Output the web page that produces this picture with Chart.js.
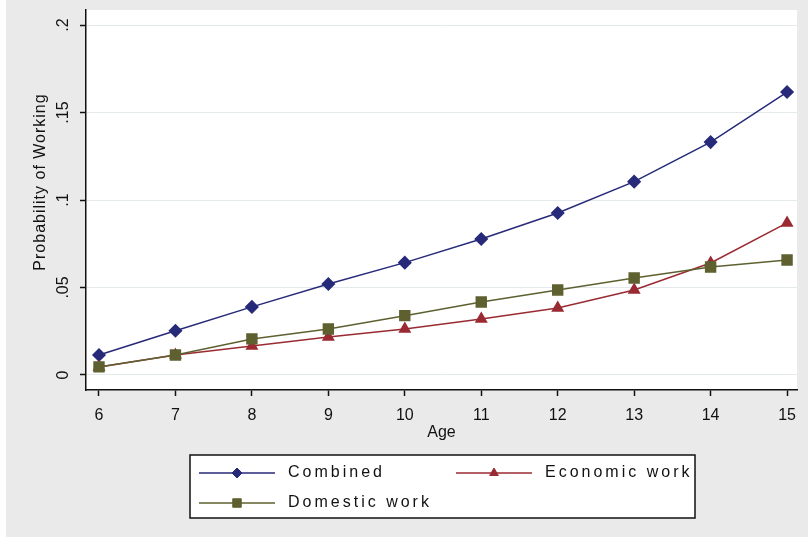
<!DOCTYPE html>
<html>
<head>
<meta charset="utf-8">
<script src="https://cdn.jsdelivr.net/npm/chart.js@4/dist/chart.umd.min.js"></script>
<style>
  html, body { margin: 0; padding: 0; background: #ffffff; }
  #wrap { width: 808px; height: 544px; }
</style>
</head>
<body>
<div id="wrap"><canvas id="c" width="808" height="544"></canvas></div>
<script>
// ---- data ----
const ages = [6, 7, 8, 9, 10, 11, 12, 13, 14, 15];
const combined = [0.0114, 0.0253, 0.0389, 0.0520, 0.0642, 0.0777, 0.0926, 0.1105, 0.1331, 0.1617];
const economic = [0.0046, 0.0114, 0.0166, 0.0217, 0.0263, 0.0320, 0.0383, 0.0486, 0.0640, 0.0869];
const domestic = [0.0046, 0.0114, 0.0206, 0.0263, 0.0339, 0.0417, 0.0486, 0.0554, 0.0617, 0.0657];
const seriesLabels = ['Combined', 'Economic work', 'Domestic work'];
const yTicks = [0, 0.05, 0.1, 0.15, 0.2];
const yTickLabels = ['0', '.05', '.1', '.15', '.2'];
const xTitle = 'Age';
const yTitle = 'Probability of Working';

const COL_NAVY = '#272a79';
const COL_RED = '#9a2a32';
const COL_OLIVE = '#5e6030';
const FONT = '"Liberation Sans", Arial, Helvetica, sans-serif';

function pts(vals) { return ages.map((a, i) => ({ x: a, y: vals[i] })); }

const bgPlugin = {
  id: 'bg',
  beforeDraw(chart) {
    const { ctx, chartArea: a } = chart;
    ctx.save();
    ctx.fillStyle = '#ffffff';
    ctx.fillRect(0, 0, chart.width, chart.height);
    ctx.fillStyle = '#eaeaea';
    ctx.fillRect(6, 0, chart.width - 6, 537);
    ctx.fillStyle = '#ffffff';
    ctx.fillRect(a.left, a.top, a.right - a.left, a.bottom - a.top);
    ctx.restore();
  }
};

const extrasPlugin = {
  id: 'extras',
  afterDraw(chart) {
    const ctx = chart.ctx;
    const ys = chart.scales.y;
    ctx.save();
    // y tick labels (rotated)
    ctx.fillStyle = '#111';
    ctx.font = '16px ' + FONT;
    ctx.textAlign = 'center';
    ctx.textBaseline = 'middle';
    yTicks.forEach((v, i) => {
      const py = ys.getPixelForValue(v);
      ctx.save();
      ctx.translate(64, py);
      ctx.rotate(-Math.PI / 2);
      ctx.fillText(yTickLabels[i], 0, 0);
      ctx.restore();
    });
    // y title
    ctx.save();
    ctx.font = '16px ' + FONT;
    ctx.letterSpacing = '1px';
    ctx.translate(41, 182);
    ctx.rotate(-Math.PI / 2);
    ctx.fillText(yTitle, 0, 0);
    ctx.restore();

    // legend
    const bx = 190, by = 455, bw = 505, bh = 63;
    ctx.fillStyle = '#ffffff';
    ctx.fillRect(bx, by, bw, bh);
    ctx.strokeStyle = '#111';
    ctx.lineWidth = 1.5;
    ctx.strokeRect(bx, by, bw, bh);
    const items = [
      { ds: 0, x0: 199, x1: 275, mx: 237, tx: 288, y: 473 },
      { ds: 1, x0: 456, x1: 532, mx: 494, tx: 545, y: 473 },
      { ds: 2, x0: 199, x1: 275, mx: 237, tx: 288, y: 503 }
    ];
    items.forEach(it => {
      const d = chart.data.datasets[it.ds];
      ctx.strokeStyle = d.borderColor;
      ctx.lineWidth = 1.5;
      ctx.beginPath();
      ctx.moveTo(it.x0, it.y);
      ctx.lineTo(it.x1, it.y);
      ctx.stroke();
      ctx.fillStyle = d.pointBackgroundColor;
      ctx.strokeStyle = d.pointBorderColor;
      ctx.lineWidth = 1;
      Chart.helpers.drawPoint(ctx, { pointStyle: d.pointStyle, radius: d.pointRadius - 1, borderWidth: 1 }, it.mx, it.y);
      ctx.fillStyle = '#111';
      ctx.font = '16px ' + FONT;
      ctx.letterSpacing = '3px';
      ctx.textAlign = 'left';
      ctx.textBaseline = 'middle';
      ctx.fillText(d.label, it.tx, it.y);
    });
    ctx.restore();
  }
};

new Chart(document.getElementById('c'), {
  type: 'line',
  data: {
    datasets: [
      {
        label: seriesLabels[0], data: pts(combined),
        borderColor: COL_NAVY, backgroundColor: COL_NAVY,
        pointBackgroundColor: COL_NAVY, pointBorderColor: COL_NAVY,
        pointStyle: 'rectRot', pointRadius: 6, borderWidth: 1.5, order: 2
      },
      {
        label: seriesLabels[1], data: pts(economic),
        borderColor: COL_RED, backgroundColor: COL_RED,
        pointBackgroundColor: COL_RED, pointBorderColor: COL_RED,
        pointStyle: 'triangle', pointRadius: 6, borderWidth: 1.5, order: 1
      },
      {
        label: seriesLabels[2], data: pts(domestic),
        borderColor: COL_OLIVE, backgroundColor: COL_OLIVE,
        pointBackgroundColor: COL_OLIVE, pointBorderColor: COL_OLIVE,
        pointStyle: 'rect', pointRadius: 7, borderWidth: 1.5, order: 0
      }
    ]
  },
  options: {
    responsive: false,
    animation: false,
    layout: { padding: { top: 10, right: 11, bottom: 100, left: 0 } },
    plugins: { legend: { display: false }, tooltip: { enabled: false } },
    elements: { line: { tension: 0 }, point: { borderWidth: 1 } },
    scales: {
      x: {
        type: 'linear',
        min: 5.83, max: 15.13,
        afterBuildTicks: s => { s.ticks = ages.map(v => ({ value: v })); },
        afterFit: s => { s.height = 54; },
        grid: { drawOnChartArea: false, tickLength: 6, tickColor: '#111', tickWidth: 1.5 },
        border: { display: true, color: '#111', width: 1.5 },
        ticks: {
          autoSkip: false, maxRotation: 0, padding: 10,
          color: '#111', font: { family: FONT, size: 16 },
          callback: v => String(v)
        },
        title: {
          display: true, text: xTitle, color: '#111',
          font: { family: FONT, size: 16 }, padding: { top: 0, bottom: 2 }
        }
      },
      y: {
        type: 'linear',
        min: -0.0086, max: 0.2086,
        afterBuildTicks: s => { s.ticks = yTicks.map(v => ({ value: v })); },
        afterFit: s => { s.width = 86; },
        grid: { color: '#e4eaec', lineWidth: 1, tickLength: 6, tickColor: '#111', tickWidth: 1.5 },
        border: { display: true, color: '#111', width: 1.5 },
        ticks: { display: false }
      }
    }
  },
  plugins: [bgPlugin, extrasPlugin]
});
</script>
</body>
</html>
